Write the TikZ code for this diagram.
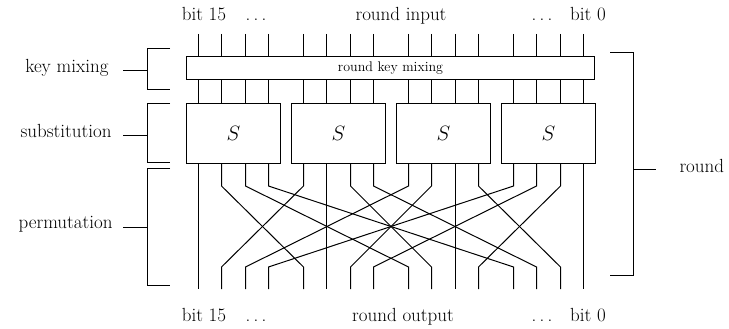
\documentclass[tikz,border=0pt]{standalone}
\usetikzlibrary{calc}
\newcommand{\spdots}{.\hspace{0.17em}.\hspace{0.17em}.}
\begin{document}
\begin{tikzpicture}[x=1pt,y=-1pt,line width=1pt,
  lbl/.style={font=\fontsize{19}{22}\selectfont,inner sep=0pt},
  sbox/.style={draw,minimum width=94pt,minimum height=60pt,inner sep=0pt,
               font=\fontsize{22}{24}\selectfont},
  mixbox/.style={draw,minimum width=408pt,minimum height=23pt,inner sep=0pt,
                 font=\fontsize{14}{16}\selectfont},
  wire/.style={line join=miter},
  brace/.style={line join=miter}]
\useasboundingbox (0,0) rectangle (729,329);

% key mixing layer and S-boxes
\node[mixbox] (mix) at (390.5,68.5) {round key mixing};
\foreach \g in {0,...,3}
  \node[sbox] (S\g) at ({233.5+105*\g},133.5) {$S$};

% wire end points: input on top, output at the bottom
\foreach \g in {0,...,3}
  \foreach \i in {0,...,3} {
    \pgfmathsetmacro{\wx}{round(198+105*\g+23.33*\i)+0.5}
    \coordinate (in-\g-\i) at (\wx,34);
    \coordinate (out-\g-\i) at (\wx,289);
  }

% wires through key mixing and S-boxes, then the bit permutation
\foreach \g in {0,...,3}
  \foreach \i in {0,...,3} {
    \draw[wire] (in-\g-\i) -- (in-\g-\i |- mix.north);
    \draw[wire] (in-\g-\i |- mix.south) -- (in-\g-\i |- S\g.north);
    \draw[wire] (in-\g-\i |- S\g.south) -- ++(0,22)
       -- ($(out-\i-\g)+(0,-22)$) -- (out-\i-\g);
  }

% top and bottom labels
\node[lbl,anchor=base] (t15) at (204,21) {bit 15};
\node[lbl,anchor=base] (td1) at (256,21) {\spdots};
\node[lbl,anchor=base] (tin) at (401,21) {round input};
\node[lbl,anchor=base] (td2) at (542,21) {\spdots};
\node[lbl,anchor=base] (t0) at (588,21) {bit 0};
\node[lbl,anchor=base] (b15) at (204,321) {bit 15};
\node[lbl,anchor=base] (bd1) at (256,321) {\spdots};
\node[lbl,anchor=base] (bout) at (403,321) {round output};
\node[lbl,anchor=base] (bd2) at (542,321) {\spdots};
\node[lbl,anchor=base] (b0) at (588,321) {bit 0};

% left-hand layer labels with their brackets
\node[lbl,anchor=base east] (lk) at (109,73) {key mixing};
\node[lbl,anchor=base east] (ls) at (112,137) {substitution};
\node[lbl,anchor=base east] (lp) at (113,228) {permutation};

\coordinate (kb) at (147.5,70.5);
\coordinate (sb) at (147.5,135.5);
\coordinate (pb) at (147.5,227.5);
\draw (123,70.5) -- (kb);
\draw (123,135.5) -- (sb);
\draw (123,227.5) -- (pb);
\draw[brace] (170,48.5) -| (147.5,89.5) -- (170,89.5);
\draw[brace] (170,103.5) -| (147.5,162.5) -- (170,162.5);
\draw[brace] (170,168.5) -| (147.5,285.5) -- (170,285.5);

% right-hand bracket for one full round
\node[lbl,anchor=base west] (lr) at (679,172) {round};
\coordinate (rb) at (633.5,169.5);
\draw[brace] (610,52.5) -| (633.5,275.5) -- (610,275.5);
\draw (rb) -- (656,169.5);
\end{tikzpicture}
\end{document}
